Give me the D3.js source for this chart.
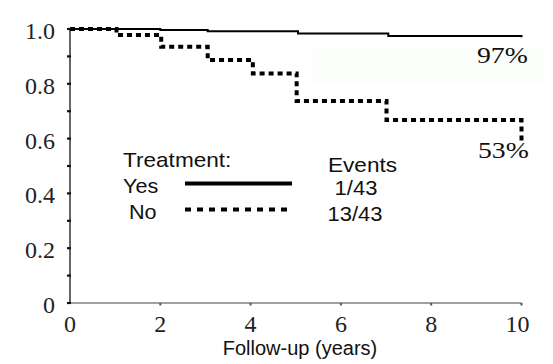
<!DOCTYPE html>
<html><head><meta charset="utf-8">
<script src="https://cdn.jsdelivr.net/npm/d3@7"></script>
<style>body{margin:0;background:#fff}svg{display:block}
.serif{font-family:"Liberation Serif","Times New Roman",Times,"DejaVu Serif",serif}
.sans{font-family:"Liberation Sans",Arial,Helvetica,sans-serif}
</style>
</head><body>
<script>
// ---- data ----
const yesTimes = [0, 2, 3.05, 5.05, 7.05, 10];
const yesSurv  = [1.0, 0.996, 0.992, 0.984, 0.974, 0.97];
const noTimes  = [0, 1.03, 2.02, 3.05, 4.05, 5.02, 7.01, 10];
const noSurv   = [1.0, 0.978, 0.935, 0.887, 0.838, 0.737, 0.668, 0.59];
const xTicks = [0, 2, 4, 6, 8, 10];
const yTicks = [0, 0.2, 0.4, 0.6, 0.8, 1.0];
const yTickLabels = ["0", "0.2", "0.4", "0.6", "0.8", "1.0"];
const yMinorTicks = [0.1, 0.3, 0.5, 0.7, 0.9];
const legendTitle = "Treatment:";
const legendGroups = ["Yes", "No"];
const eventsTitle = "Events";
const eventsLabels = ["1/43", "13/43"];
const endLabels = ["97%", "53%"];
const xTitle = "Follow-up (years)";

const W = 553, H = 364;
const svg = d3.select("body").append("svg").attr("width", W).attr("height", H);

const x = d3.scaleLinear().domain([0, 10]).range([70, 521.5]);
const y = d3.scaleLinear().domain([0, 1]).range([303, 29]);

// very faint background patch behind 97%
svg.append("rect").attr("x", 312).attr("y", 48).attr("width", 231).attr("height", 35).attr("fill", "#fbfefa");

// axes lines
svg.append("line").attr("x1", x(0)).attr("x2", x(10)).attr("y1", y(0)).attr("y2", y(0))
  .attr("stroke", "#808080").attr("stroke-width", 1.5);
svg.append("line").attr("x1", x(0)).attr("x2", x(0)).attr("y1", y(0)).attr("y2", y(1))
  .attr("stroke", "#666").attr("stroke-width", 2);

// y ticks
[...yTicks, ...yMinorTicks].forEach(v => {
  svg.append("line").attr("x1", x(0) - 3).attr("x2", x(0) + 1).attr("y1", y(v)).attr("y2", y(v))
    .attr("stroke", "#111").attr("stroke-width", 2.2);
});
// x ticks
xTicks.slice(1).forEach(v => {
  svg.append("line").attr("x1", x(v)).attr("x2", x(v)).attr("y1", y(0)).attr("y2", y(0) + 2.5)
    .attr("stroke", "#555").attr("stroke-width", 2);
});

yTicks.forEach((v, i) => {
  svg.append("text").attr("class", "serif").attr("x", 55).attr("y", y(v) + 10).attr("text-anchor", "end")
    .attr("font-size", 24).attr("fill", "#222").text(yTickLabels[i]);
});
xTicks.forEach(v => {
  svg.append("text").attr("class", "serif").attr("x", x(v) - (v === 10 ? 4 : 0)).attr("y", 332).attr("text-anchor", "middle")
    .attr("font-size", 24).attr("fill", "#222").text(v);
});

svg.append("text").attr("class", "sans").attr("x", 300).attr("y", 355).attr("text-anchor", "middle")
  .attr("font-size", 20).attr("fill", "#111").text(xTitle);

// curves
const line = d3.line().x(d => x(d[0])).y(d => y(d[1])).curve(d3.curveStepAfter);
const yesData = yesTimes.map((t, i) => [t, yesSurv[i]]);
const noData = noTimes.map((t, i) => [t, noSurv[i]]);

svg.append("path").attr("d", line(yesData)).attr("fill", "none")
  .attr("stroke", "#000").attr("stroke-width", 2);
svg.append("path").attr("d", line(noData)).attr("fill", "none")
  .attr("stroke", "#000").attr("stroke-width", 4).attr("stroke-dasharray", "5,4");

// stretched text helper
function stext(tx, ty, str, cls, size, sx, anchor) {
  svg.append("text").attr("class", cls).attr("transform", `translate(${tx},${ty}) scale(${sx},1)`)
    .attr("text-anchor", anchor || "start")
    .attr("font-size", size).attr("fill", "#111").text(str);
}

// end labels
stext(477, 63, endLabels[0], "serif", 23.5, 1.18);
stext(478, 158, endLabels[1], "serif", 23.5, 1.18);

// legend
stext(123, 167, legendTitle, "sans", 20, 1.13);
stext(123, 193, legendGroups[0], "sans", 20, 1.08);
stext(129, 219, legendGroups[1], "sans", 20, 1.08);
svg.append("line").attr("x1", 185).attr("x2", 292).attr("y1", 183.5).attr("y2", 183.5)
  .attr("stroke", "#000").attr("stroke-width", 4);
svg.append("line").attr("x1", 185).attr("x2", 292).attr("y1", 209.5).attr("y2", 209.5)
  .attr("stroke", "#000").attr("stroke-width", 4).attr("stroke-dasharray", "6,6");

stext(328, 172, eventsTitle, "sans", 20, 1.13);
stext(356, 195, eventsLabels[0], "sans", 20, 1.1, "middle");
stext(355, 221, eventsLabels[1], "sans", 20, 1.1, "middle");
</script>
</body></html>
